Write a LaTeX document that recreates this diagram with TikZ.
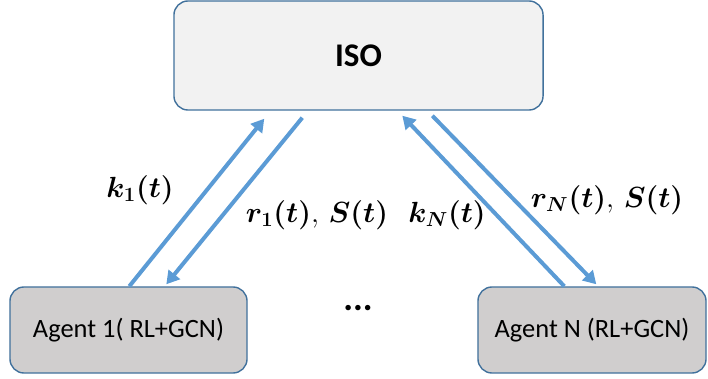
\documentclass[tikz,border=0pt]{standalone}
\usepackage{amsmath, amssymb, bm}
\usepackage{fontspec}
\setmainfont{Carlito}
\usepackage{tikz}
\usetikzlibrary{arrows.meta, positioning, calc}

\definecolor{isofill}{HTML}{F2F2F2}
\definecolor{agentfill}{HTML}{D0CECE}
\definecolor{boxline}{HTML}{41719C}
\definecolor{arrowblue}{HTML}{5B9BD5}

\begin{document}
\begin{tikzpicture}[
    x=0.025cm, y=-0.025cm,
    box/.style={draw=boxline, line width=1pt, rounded corners=0.35cm, inner sep=0pt},
    isobox/.style={box, fill=isofill, minimum width=9.225cm, minimum height=2.725cm, font=\fontsize{23.5}{28}\selectfont\bfseries},
    agentbox/.style={box, fill=agentfill, minimum height=2.15cm, font=\fontsize{18.8}{22}\selectfont},
    arrowstyle/.style={-{Triangle[length=0.32cm, width=0.36cm]}, line width=0.1cm, arrowblue},
    lbl/.style={font=\fontsize{19.5}{23}\selectfont},
]
    \useasboundingbox (0,0) rectangle (708,379);

    % ISO on top, agents below
    \node[isobox] (iso) at (358.5,55.5) {ISO};
    \node[agentbox, minimum width=5.925cm] (agent1) at (128.5,330) {Agent 1( RL+GCN)};
    \node[agentbox, minimum width=5.7cm] (agentN) at (592,330) {Agent N (RL+GCN)};
    \node[font=\fontsize{26}{30}\selectfont\bfseries] (dots) at (358,308) {...};

    % Agent 1 <-> ISO
    \draw[arrowstyle] ([xshift=3cm]agent1.north west) -- ([xshift=2.275cm, yshift=-0.2cm]iso.south west);
    \draw[arrowstyle] ([xshift=3.225cm, yshift=-0.175cm]iso.south west) -- ([xshift=3.925cm, yshift=0.05cm]agent1.north west);

    % Agent N <-> ISO
    \draw[arrowstyle] ([xshift=2.175cm]agentN.north west) -- ([xshift=5.725cm, yshift=-0.125cm]iso.south west);
    \draw[arrowstyle] ([xshift=6.475cm, yshift=-0.125cm]iso.south west) -- ([xshift=2.975cm, yshift=0.05cm]agentN.north west);

    % labels
    \node[lbl] (k1) at (140,190) {$\bm{k_1(t)}$};
    \node[lbl] (r1) at (317,215) {$\bm{r_1(t)},\,\bm{S(t)}$};
    \node[lbl] (kN) at (447,215) {$\bm{k_N(t)}$};
    \node[lbl] (rN) at (607,200) {$\bm{r_N(t)},\,\bm{S(t)}$};
\end{tikzpicture}
\end{document}
